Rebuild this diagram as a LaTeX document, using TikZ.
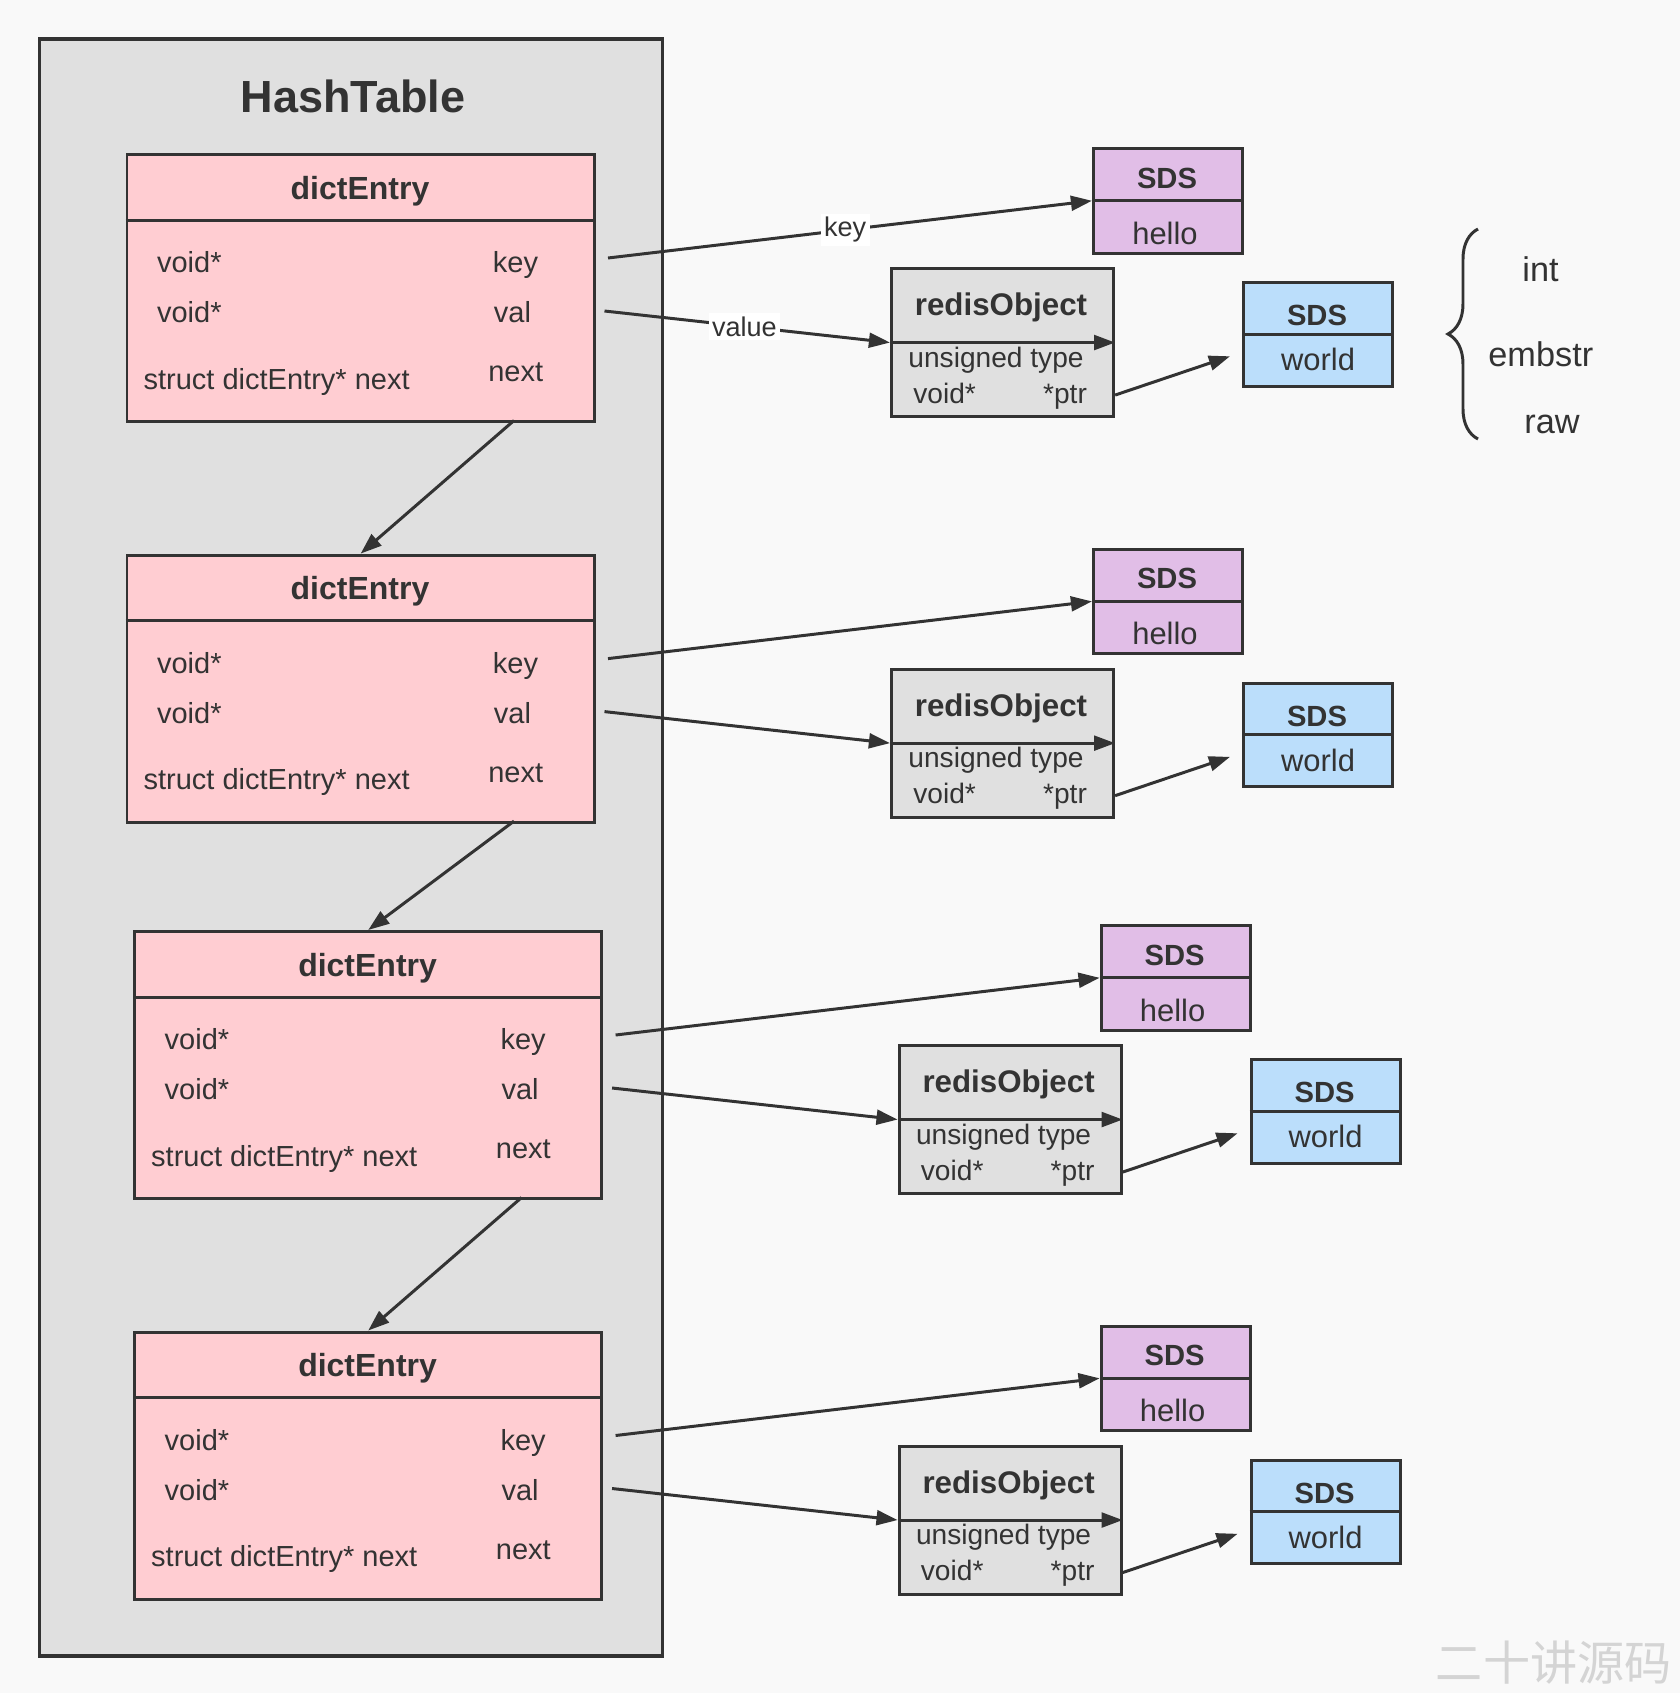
\documentclass[tikz,border=0pt]{standalone}
\usepackage{fontspec}
\setmainfont{Liberation Sans}
\newfontfamily\cjkfont{Noto Sans CJK SC}
\usetikzlibrary{arrows.meta, positioning, decorations.pathreplacing}
\definecolor{Ink}{HTML}{333333}
\definecolor{PaperBg}{HTML}{F9F9F9}
\definecolor{TableGray}{HTML}{E0E0E0}
\definecolor{EntryPink}{HTML}{FFCDD2}
\definecolor{KeyPurple}{HTML}{E1BEE7}
\definecolor{ValBlue}{HTML}{BBDEFB}
\definecolor{WaterGray}{HTML}{D4D4D4}

\tikzset{
  boxline/.style={draw=Ink, line width=0.85pt},
  ptr/.style={draw=Ink, line width=0.85pt, -{Triangle[length=6pt, width=4.2pt]}},
  field/.style={text=Ink, inner sep=0pt, font=\fontsize{8.25}{10}\selectfont},
  title/.style={text=Ink, inner sep=0pt, font=\fontsize{9.1}{11}\selectfont\bfseries},
  edgelabel/.style={fill=white, text=Ink, inner sep=1pt, font=\fontsize{7.7}{9}\selectfont},
  entrybox/.style={boxline, fill=EntryPink, anchor=north west, minimum width=4.67cm, minimum height=2.67cm},
  keybox/.style={boxline, fill=KeyPurple, anchor=north west, minimum width=1.49cm, minimum height=1.045cm},
  objbox/.style={boxline, fill=TableGray, anchor=north west, minimum width=2.22cm, minimum height=1.48cm},
  valbox/.style={boxline, fill=ValBlue, anchor=north west, minimum width=1.49cm, minimum height=1.035cm},
}

\begin{document}
\begin{tikzpicture}[x=0.01cm, y=-0.01cm]
    % page
    \fill[PaperBg] (0,0) rectangle (1680,1693);

    % HashTable frame
    \node[draw=Ink, line width=1pt, fill=TableGray, anchor=north west,
          minimum width=6.23cm, minimum height=16.16cm] (table) at (37.5,37.3) {};
    \node[title, font=\fontsize{12.8}{15}\selectfont\bfseries, anchor=base] (tabletitle) at (353,112.7) {HashTable};

    % one row = dictEntry + key SDS + redisObject + value SDS
    \foreach \i/\dx/\dy in {1/0/0, 2/0/400.6, 3/7.6/777, 4/7.6/1177.5} {
      \begin{scope}[shift={(\dx,\dy)}]
        % dictEntry
        \node[entrybox] (e\i) at (125.5,153) {};
        \draw[boxline] (e\i.west |- 0,220) -- (e\i.east |- 0,220);
        \node[title, anchor=base] (et\i) at (360,199.3) {dictEntry};
        \node[field, anchor=base west] (ek\i) at (156.4,272.7) {void*};
        \node[field, anchor=base] (ekn\i) at (515.5,272.7) {key};
        \node[field, anchor=base west] (ev\i) at (156.4,322.7) {void*};
        \node[field, anchor=base] (evn\i) at (512.5,322.7) {val};
        \node[field, anchor=base west] (en\i) at (142.9,389.3) {struct dictEntry* next};
        \node[field, anchor=base] (enn\i) at (515.7,381.7) {next};
        \coordinate (kout\i) at (608,258);
        \coordinate (vout\i) at (604.5,311);
        \coordinate (nx\i) at (514,420.5);

        % key SDS
        \node[keybox] (s\i) at (1092,147) {};
        \draw[boxline] (s\i.west) -- (s\i.east);
        \node[title, font=\fontsize{8.3}{10}\selectfont\bfseries, anchor=base] (st\i) at (1167,188.3) {SDS};
        \node[field, font=\fontsize{8.8}{10}\selectfont, anchor=base] (sv\i) at (1165,244) {hello};

        % redisObject
        \node[objbox] (o\i) at (890,267) {};
        \node[title, font=\fontsize{8.9}{11}\selectfont\bfseries, anchor=base] (ot\i) at (1001,315.7) {redisObject};
        \node[field, font=\fontsize{8}{10}\selectfont, anchor=base] (oty\i) at (996,367.3) {unsigned type};
        \node[field, font=\fontsize{8}{10}\selectfont, anchor=base west] (ov\i) at (912.6,403.3) {void*};
        \node[field, font=\fontsize{8}{10}\selectfont, anchor=base east] (op\i) at (1087.6,403.3) {*ptr};

        % value SDS
        \node[valbox] (b\i) at (1242,281) {};
        \draw[boxline] (b\i.west) -- (b\i.east);
        \node[title, font=\fontsize{8.3}{10}\selectfont\bfseries, anchor=base] (bt\i) at (1317,325.7) {SDS};
        \node[field, font=\fontsize{8.8}{10}\selectfont, anchor=base] (bv\i) at (1318,370.7) {world};

        % pointers
        \draw[ptr] (kout\i) -- (s\i.west);
        \draw[ptr] (vout\i) -- (o\i.west);
        \draw[ptr] (o\i.west) -- (o\i.east);
        \draw[ptr] ([yshift=0.23cm]o\i.south east) -- ([xshift=-0.12cm, yshift=-0.22cm]b\i.west);
      \end{scope}
    }

    % next chain
    \foreach \i/\j in {1/2, 2/3, 3/4}
      \draw[ptr] (nx\i) -- (e\j.north);

    % labels on the first row
    \path (kout1) -- node[edgelabel, pos=0.49] (keylbl) {key} (s1.west);
    \path (vout1) -- node[edgelabel, pos=0.49] (vallbl) {value} (o1.west);

    % encodings
    \draw[Ink, line width=0.85pt, decorate, decoration={brace, amplitude=0.3cm}] (1478,439) -- (1478,229);
    \node[field, font=\fontsize{9.75}{12}\selectfont, anchor=base] (encint) at (1540.5,281.7) {int};
    \node[field, font=\fontsize{9.75}{12}\selectfont, anchor=base] (encemb) at (1540.8,366.7) {embstr};
    \node[field, font=\fontsize{9.75}{12}\selectfont, anchor=base] (encraw) at (1552,433.3) {raw};

    % watermark
    \node[text=WaterGray, inner sep=0pt, font=\cjkfont\fontsize{13.4}{16}\selectfont] (mark) at (1553.7,1662.7) {二十讲源码};
\end{tikzpicture}
\end{document}
